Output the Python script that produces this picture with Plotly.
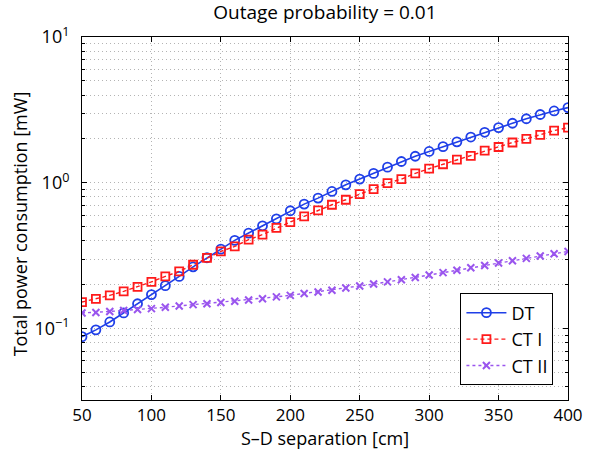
import plotly.graph_objects as go

# S-D separation [cm]
separation = list(range(50, 401, 10))

# Total power consumption [mW] for each scheme
dt = [0.088, 0.098, 0.111, 0.128, 0.148, 0.171, 0.197, 0.228, 0.265, 0.306,
      0.351, 0.403, 0.452, 0.507, 0.566, 0.643, 0.714, 0.785, 0.872, 0.968,
      1.06, 1.16, 1.28, 1.40, 1.52, 1.64, 1.77, 1.91, 2.06, 2.22,
      2.39, 2.56, 2.75, 2.94, 3.11, 3.28]
ct1 = [0.152, 0.160, 0.169, 0.180, 0.193, 0.209, 0.228, 0.247, 0.274, 0.305,
       0.338, 0.366, 0.407, 0.441, 0.490, 0.538, 0.588, 0.646, 0.707, 0.765,
       0.837, 0.906, 0.995, 1.06, 1.16, 1.25, 1.34, 1.44, 1.53, 1.66,
       1.76, 1.89, 2.00, 2.13, 2.28, 2.39]
ct2 = [0.128, 0.129, 0.131, 0.133, 0.135, 0.137, 0.140, 0.143, 0.146, 0.148,
       0.151, 0.154, 0.157, 0.160, 0.165, 0.169, 0.174, 0.178, 0.183, 0.190,
       0.196, 0.202, 0.209, 0.216, 0.224, 0.233, 0.242, 0.251, 0.261, 0.271,
       0.282, 0.292, 0.303, 0.315, 0.326, 0.338]

series_names = ["DT", "CT I", "CT II"]
y_tick_vals = [0.1, 1, 10]
y_tick_text = ["10<sup>\u22121</sup>", "10<sup>0</sup>", "10<sup>1</sup>"]
y_minor_vals = [m * d for d in (0.01, 0.1, 1) for m in range(2, 10)]

FONT = "Open Sans"
GRID = "#b4b4b4"
GRID_DASH = "1px,3px"

fig = go.Figure()
fig.add_trace(go.Scatter(
    x=separation, y=dt, name=series_names[0], mode="lines+markers",
    line=dict(color="#1f3fe8", width=1.6),
    marker=dict(symbol="circle-open", size=9, color="#1f3fe8", line=dict(width=1.8)),
))
fig.add_trace(go.Scatter(
    x=separation, y=ct1, name=series_names[1], mode="lines+markers",
    line=dict(color="#ff1a1a", width=1.4, dash="4px,3px"),
    marker=dict(symbol="square-open", size=8, color="#ff1a1a", line=dict(width=1.8)),
))
fig.add_trace(go.Scatter(
    x=separation, y=ct2, name=series_names[2], mode="lines+markers",
    line=dict(color="#9a55ee", width=1.4, dash="dot"),
    marker=dict(symbol="x-thin-open", size=7, color="#9a55ee", line=dict(width=2)),
))

fig.update_layout(
    width=594, height=452,
    margin=dict(l=82, r=26, t=37, b=52),
    paper_bgcolor="white", plot_bgcolor="white",
    font=dict(family=FONT, size=16, color="black"),
    title=dict(text="Outage probability = 0.01", x=0.547, xanchor="center",
               y=0.972, yanchor="middle", font=dict(family=FONT, size=19)),
    legend=dict(x=0.97, xanchor="right", y=0.04, yanchor="bottom",
                bgcolor="white", bordercolor="black", borderwidth=1,
                font=dict(family=FONT, size=18), tracegroupgap=0,
                itemwidth=40),
    showlegend=True,
    annotations=[dict(
        text="Total power consumption [mW]", textangle=-90,
        xref="paper", yref="paper", x=-0.128, y=0.486,
        xanchor="center", yanchor="middle", showarrow=False,
        font=dict(family=FONT, size=18),
    )],
)

fig.update_xaxes(
    range=[50, 400], dtick=50, tick0=50,
    title=dict(text="S\u2013D separation [cm]", font=dict(family=FONT, size=18), standoff=0),
    tickfont=dict(family=FONT, size=17),
    showline=True, linecolor="black", linewidth=1, mirror="ticks",
    ticks="inside", ticklen=5, tickcolor="black",
    showgrid=True, gridcolor=GRID, griddash=GRID_DASH, gridwidth=1,
    zeroline=False,
)
fig.update_yaxes(
    type="log", range=[-1.49, 1],
    tickvals=y_tick_vals, ticktext=y_tick_text,
    tickfont=dict(family=FONT, size=18), ticklabelstandoff=8,
    showline=True, linecolor="black", linewidth=1, mirror="ticks",
    ticks="inside", ticklen=5, tickcolor="black",
    showgrid=True, gridcolor=GRID, griddash=GRID_DASH, gridwidth=1,
    minor=dict(tickvals=y_minor_vals, ticks="inside", ticklen=3, tickcolor="black",
               showgrid=True, gridcolor=GRID, griddash=GRID_DASH, gridwidth=1),
    zeroline=False,
)

fig.write_html("out.html")
